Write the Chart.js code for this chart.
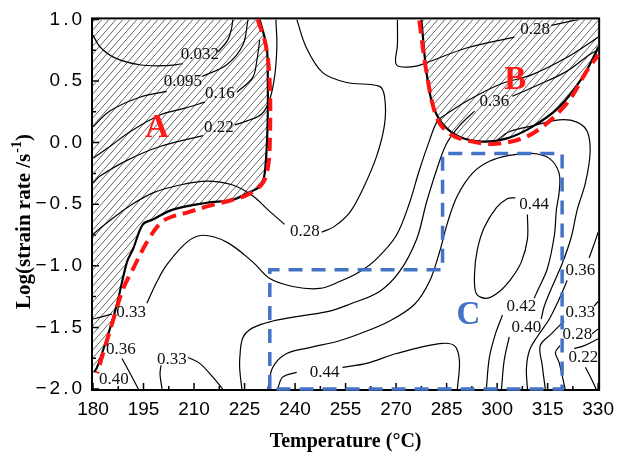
<!DOCTYPE html>
<html><head><meta charset="utf-8">
<script src="https://cdn.jsdelivr.net/npm/chart.js@4"></script>
<style>html,body{margin:0;padding:0;background:#fff;}canvas{display:block;}</style>
</head><body>
<canvas id="c" width="623" height="458"></canvas>
<script>
// ---- tick labels ----
const xTicks = [180,195,210,225,240,255,270,285,300,315,330];
const yTicks = [-2,-1.5,-1,-0.5,0,0.5,1];

// ---- contour lines (Temperature °C, log strain rate); null = break at label ----
const cont032 = [[180,0.872],[182.1,0.776],[186.5,0.688],[193.9,0.632],[201.3,0.624],[206.7,0.64],null,[217.1,0.736],[220.0,0.832],[221.2,0.936],[221.5,1.0]];
const cont095 = [[180,0.128],[185.0,0.256],[193.9,0.368],[201.9,0.416],null,[212.3,0.536],[219.7,0.632],[224.5,0.792],[226.0,0.992],[226.1,1.0]];
const cont16 = [[180,-0.128],[185.0,-0.032],[191.0,0.088],[199.9,0.224],[207.3,0.28],[213.2,0.328],null,[222.7,0.408],[227.4,0.528],[228.6,0.656],[229.5,0.832]];
const cont22 = [[180,-0.328],[182.1,-0.272],[190.1,-0.144],[199.9,-0.032],[212.6,0.056],null,[222.1,0.144],[225.7,0.176],[230.1,0.232],[232.5,0.352],[234.0,0.552],[234.6,0.792],[234.3,1.0]];
const cont28 = [[180,-0.744],[185.0,-0.632],[191.0,-0.512],[197.8,-0.408],[205.8,-0.344],[213.8,-0.312],[221.5,-0.344],[227.4,-0.432],[231.9,-0.544],[236.9,-0.664],null,[247.9,-0.728],[251.7,-0.68],[256.2,-0.568],[260.0,-0.384],[264.2,-0.112],[266.6,0.152],[266.6,0.368],[265.1,0.456],[255.3,0.488],[248.2,0.568],[243.4,0.768],[240.5,1.0]];
const cont33 = [[180,-1.432],[185.6,-1.392],null,[196.0,-1.304],[199.0,-1.128],[201.9,-0.992],[207.9,-0.808],[212.6,-0.752],[219.7,-0.808],[227.4,-0.968],[232.5,-1.104],[239.3,-1.168],[247.3,-1.184],[253.2,-1.128],[259.2,-1.048],[264.2,-0.944],[270.1,-0.752],[274.0,-0.488],[276.9,-0.224],[279.9,0.016],[282.3,0.176],[285.0,0.232],[290.9,0.336],[300.7,0.472],[310.4,0.552],[320.5,0.688],[330,0.856]];
const cont36 = [[224.2,-2.0],[223.6,-1.848],[223.6,-1.744],[224.5,-1.584],[227.4,-1.504],[233.4,-1.448],[241.4,-1.408],[250.3,-1.368],[256.2,-1.312],[265.1,-1.208],[271.0,-1.048],[276.1,-0.784],[279.0,-0.488],[282.0,-0.224],[285.0,-0.008],[288.8,0.136],[293.3,0.256],null,[304.5,0.376],[312.5,0.472],[320.5,0.576],[327.3,0.712],[329.4,0.744]];
const cont42 = [[231.9,-2.0],[233.4,-1.824],[237.5,-1.712],[244.3,-1.664],[253.2,-1.608],[259.2,-1.552],[268.1,-1.448],[275.5,-1.312],[279.9,-1.128],[282.9,-0.888],[285.3,-0.648],[288.2,-0.432],[292.7,-0.248],[297.7,-0.152],[303.6,-0.104],[310.4,-0.088],[315.5,-0.128],[318.4,-0.248],[318.4,-0.408],[317.6,-0.544],[317.0,-0.752],[314.9,-1.024],[311.9,-1.208],[311.0,-1.264],null,[301.6,-1.4],[299.5,-1.552],[297.7,-1.744],[296.8,-2.0]];
const cont44a = [[309.0,-0.584],[309.0,-0.784],[307.2,-0.968],[304.2,-1.104],[300.7,-1.208],[296.8,-1.264],[293.8,-1.224],[293.3,-1.064],[294.1,-0.872],[296.2,-0.688],[299.8,-0.528],[303.0,-0.456],[305.4,-0.448]];
const cont44b = [[234.8,-2.0],[236.3,-1.904],[240.5,-1.864],null,[254.1,-1.824],[261.2,-1.792],[270.1,-1.712],[282.9,-1.632],[287.3,-1.648],[288.8,-1.768],[288.2,-2.0]];
const cont40 = [[299.8,0.016],[303.6,0.088],[310.4,0.136],[318.4,0.184],[323.5,0.168],[326.8,0.088],[327.6,-0.088],[326.2,-0.328],[323.8,-0.544],[322.0,-0.768],[319.3,-0.984],[316.1,-1.184],[314.0,-1.328],[313.1,-1.432],null,[303.6,-1.576],[302.1,-1.768],[301.3,-2.0]];
const cont36r = [[330,-0.728],[328.5,-0.848],[327.3,-0.936],null,[320.8,-1.12],[318.4,-1.272],[315.5,-1.432],[311.9,-1.576],[309.6,-1.688],[308.7,-1.832],[309.0,-2.0]];
const cont33r = [[330,-1.288],[328.8,-1.328],null,[319.9,-1.448],[316.1,-1.552],[312.8,-1.648],[313.4,-1.808],[314.3,-2.0]];
const cont28r = [[330,-1.512],[328.2,-1.552],null,[318.7,-1.648],[317.3,-1.704],[318.4,-1.784],[320.2,-2.0]];
const cont22r = [[330,-1.592],[325.9,-1.648],[322.9,-1.672],null,[326.2,-1.824],[327.9,-1.912],[329.4,-2.0]];
const cont28top = [[270.4,1.0],[270.4,0.792],[270.1,0.632],[274.9,0.616],[279.0,0.648],[290.9,0.768],[305.1,0.856],null,[316.1,0.952],[322.9,0.992],[324.4,1.0]];
const cont36s = [[188.6,-1.752],[191.0,-1.872],[193.3,-1.992],[193.5,-2.0]];
const cont33s = [[200.5,-2.0],[199.9,-1.88],[200.2,-1.808],null,[208.2,-1.744],[211.7,-1.792],[215.6,-1.904],[218.5,-2.0]];

// ---- instability boundaries and domain C ----
const bndA = [[229.5,1.0],[231.6,0.768],[231.9,0.496],[231.9,0.232],[231.6,-0.032],[231.0,-0.248],[230.4,-0.312],[229.5,-0.36],[226.0,-0.408],[221.5,-0.464],[213.8,-0.488],[203.7,-0.544],[197.8,-0.624],[194.8,-0.664],[191.9,-0.864],[190.1,-0.968],[187.1,-1.312],[184.2,-1.584],[181.2,-1.824],[180.3,-1.864]];
const dashA = [[228.9,1.0],[231.3,0.792],[232.5,0.472],[232.5,-0.008],[231.9,-0.208],[230.4,-0.328],[226.5,-0.416],[221.5,-0.464],[214.7,-0.512],[207.9,-0.568],[202.8,-0.608],[199.9,-0.656],[196.0,-0.808],[191.9,-1.024],[189.0,-1.184],[185.9,-1.448],[183.0,-1.712],[181.2,-1.872]];
const bndB = [[277.5,1.0],[279.0,0.576],[280.8,0.312],[283.8,0.152],[288.8,0.048],[295.6,0.008],[302.7,0.032],[310.4,0.128],[318.4,0.288],[325.3,0.528],[329.4,0.736],[330,0.776]];
const dashB = [[276.9,0.992],[279.0,0.576],[282.0,0.208],[285.9,0.072],[292.7,0.008],[300.7,-0.008],[310.4,0.072],[320.5,0.312],[326.5,0.576],[329.4,0.688],[330,0.712]];
const boxC = [[232.5,-2.0],[232.5,-1.032],[283.8,-1.032],[283.8,-0.088],[319.3,-0.088],[319.3,-2.0],[232.5,-2.0]];

// ---- contour labels ----
const labelText = ['0.032','0.095','0.16','0.22','0.28','0.33','0.36','0.40','0.33','0.44','0.28','0.36','0.44','0.42','0.40','0.36','0.33','0.28','0.22'];
const labelX = [211.7,206.7,217.7,217.4,242.9,191.3,188.3,186.2,203.4,248.8,311.3,299.2,311.0,307.2,308.7,324.7,324.7,323.8,325.6];
const labelY = [0.712,0.496,0.40,0.12,-0.72,-1.376,-1.68,-1.92,-1.76,-1.864,0.92,0.336,-0.504,-1.328,-1.504,-1.04,-1.376,-1.56,-1.744];

// ---- domain letters ----
const regionText = ['A','B','C'];
const regionX = [199.0,305.4,291.5];
const regionY = [0.112,0.504,-1.4];
const regionColor = ['#ff1a1a','#ff1a1a','#4472c4'];

const canvas = document.getElementById('c');
const cctx = canvas.getContext('2d');
function makeHatch() {
  const w = 7, h = 8;
  const t = document.createElement('canvas'); t.width = w; t.height = h;
  const g = t.getContext('2d');
  g.strokeStyle = '#404040'; g.lineWidth = 0.8;
  g.beginPath();
  for (const dx of [-w, 0, w]) { g.moveTo(dx, h); g.lineTo(dx + w, 0); }
  g.stroke();
  return cctx.createPattern(t, 'repeat');
}
const pat = makeHatch();

const P = a => a.map(p => p ? {x: p[0], y: p[1]} : {x: null, y: null});
const ln = (arr, o) => Object.assign({data: P(arr), pointRadius: 0, pointHoverRadius: 0, fill: false,
  borderColor: '#000', borderWidth: 1.2, tension: 0.35, order: 3}, o || {});

const hatchA = [[180,1.0]].concat(bndA, [[180,-1.87],[180,1.0]]);
const hatchB = bndB.concat([[330,1.0],[277.5,1.0]]);
const contours = [cont032,cont095,cont16,cont22,cont28,cont33,cont36,cont42,cont44a,cont44b,cont40,cont36r,cont33r,cont28r,cont22r,cont28top,cont36s,cont33s];

const datasets = [
  ln(hatchA, {fill: 'shape', backgroundColor: pat, borderColor: 'rgba(0,0,0,0)', tension: 0, order: 9}),
  ln(hatchB, {fill: 'shape', backgroundColor: pat, borderColor: 'rgba(0,0,0,0)', tension: 0, order: 9}),
  ...contours.map(c => ln(c)),
  ln(bndA, {borderWidth: 2.2, order: 2}),
  ln(bndB, {borderWidth: 2.2, order: 2}),
  ln(dashA, {borderColor: '#ff1414', borderWidth: 4, borderDash: [13, 7], order: 1, clip: false}),
  ln(dashB, {borderColor: '#ff1414', borderWidth: 4, borderDash: [13, 7], order: 1, clip: false}),
  ln(boxC, {borderColor: '#4472c4', borderWidth: 3.5, borderDash: [14, 9], tension: 0, order: 0, clip: false})
];

const deco = {
  id: 'deco',
  beforeDatasetsDraw(chart) {
    const {ctx, chartArea: a, scales: {x, y}} = chart;
    ctx.save();
    ctx.strokeStyle = '#000';
    ctx.lineWidth = 2;
    ctx.strokeRect(a.left - 1, a.top - 1, a.right - a.left + 2, a.bottom - a.top + 2);
    ctx.lineWidth = 1.5;
    ctx.beginPath();
    xTicks.forEach((v, i) => {
      const px = x.getPixelForValue(v);
      ctx.moveTo(px, a.bottom); ctx.lineTo(px, a.bottom - 6);
      if (i < xTicks.length - 1) {
        const pm = x.getPixelForValue((v + xTicks[i + 1]) / 2);
        ctx.moveTo(pm, a.bottom); ctx.lineTo(pm, a.bottom - 3);
      }
    });
    yTicks.forEach((v, i) => {
      const py = y.getPixelForValue(v);
      ctx.moveTo(a.left, py); ctx.lineTo(a.left + 6, py);
      if (i < yTicks.length - 1) {
        const pm = y.getPixelForValue((v + yTicks[i + 1]) / 2);
        ctx.moveTo(a.left, pm); ctx.lineTo(a.left + 3, pm);
      }
    });
    ctx.stroke();
    ctx.restore();
  },
  afterDatasetsDraw(chart) {
    const {ctx, scales: {x, y}} = chart;
    ctx.save();
    ctx.textAlign = 'center'; ctx.textBaseline = 'middle';
    ctx.fillStyle = '#111';
    ctx.font = '17px "Liberation Serif", serif';
    labelText.forEach((t, i) => ctx.fillText(t, x.getPixelForValue(labelX[i]), y.getPixelForValue(labelY[i])));
    ctx.font = 'bold 33px "Liberation Serif", serif';
    regionText.forEach((t, i) => {
      ctx.fillStyle = regionColor[i];
      ctx.fillText(t, x.getPixelForValue(regionX[i]), y.getPixelForValue(regionY[i]));
    });
    ctx.restore();
  },
  afterDraw(chart) {
    const ctx = chart.ctx;
    ctx.save();
    ctx.translate(23, 222);
    ctx.rotate(-Math.PI / 2);
    ctx.fillStyle = '#000';
    ctx.textAlign = 'left'; ctx.textBaseline = 'alphabetic';
    const f1 = 'bold 21px "Liberation Serif", serif', f2 = 'bold 14px "Liberation Serif", serif';
    const t1 = 'Log(strain rate /s', t2 = '-1', t3 = ')';
    ctx.font = f1; const w1 = ctx.measureText(t1).width, w3 = ctx.measureText(t3).width;
    ctx.font = f2; const w2 = ctx.measureText(t2).width;
    let sx = -(w1 + w2 + w3) / 2;
    ctx.font = f1; ctx.fillText(t1, sx, 7); sx += w1;
    ctx.font = f2; ctx.fillText(t2, sx + 1, -2); sx += w2 + 1;
    ctx.font = f1; ctx.fillText(t3, sx, 7);
    ctx.restore();
  }
};

// y tick labels in the reference are drawn with wider letter spacing
function spacedLabels(s) {
  const base = Object.getPrototypeOf(s).drawLabels;
  s.drawLabels = function (area) {
    const c = this.ctx;
    c.save();
    if ('letterSpacing' in c) c.letterSpacing = '3px';
    base.call(this, area);
    c.restore();
  };
}

new Chart(canvas, {
  type: 'line',
  data: {datasets},
  plugins: [deco],
  options: {
    responsive: false,
    animation: false,
    events: [],
    layout: {padding: {top: 14, right: 24, left: 0, bottom: 0}},
    plugins: {legend: {display: false}, tooltip: {enabled: false}},
    scales: {
      x: {
        type: 'linear', min: 180, max: 330,
        afterBuildTicks: s => { s.ticks = xTicks.map(v => ({value: v})); },
        afterFit: s => { s.height = 69; },
        grid: {display: false, drawTicks: false},
        border: {display: false},
        ticks: {padding: 9, color: '#000', font: {family: '"Liberation Sans", Arial, sans-serif', size: 19},
          maxRotation: 0, callback: v => String(v)},
        title: {display: true, text: 'Temperature (°C)', color: '#000',
          font: {family: '"Liberation Serif", serif', size: 20, weight: 'bold'}, padding: {top: 0, bottom: 4}}
      },
      y: {
        type: 'linear', min: -2, max: 1,
        afterBuildTicks: s => { s.ticks = yTicks.map(v => ({value: v})); },
        afterFit: s => { s.width = 93; spacedLabels(s); },
        grid: {display: false, drawTicks: false},
        border: {display: false},
        ticks: {padding: 8, color: '#000', font: {family: '"Liberation Sans", Arial, sans-serif', size: 19},
          callback: v => (v < 0 ? '\u2212' : '') + Math.abs(v).toFixed(1)}
      }
    }
  }
});
</script>
</body></html>
